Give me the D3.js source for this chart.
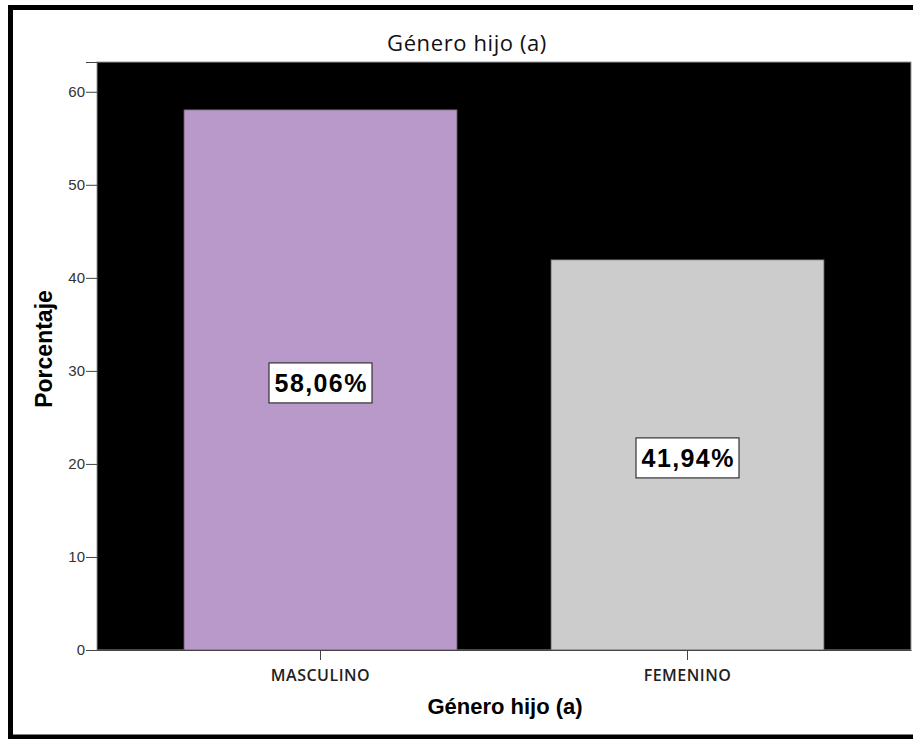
<!DOCTYPE html>
<html>
<head>
    <meta charset="utf-8">
    <style>
        body { margin: 0; background: #fff; }
    </style>
</head>
<body>
    <div id="container"></div>
    <script src="https://d3js.org/d3.v7.min.js"></script>
    <script>
        const categories = ["MASCULINO", "FEMENINO"];
        const values = [58.06, 41.94];
        const labels = ["58,06%", "41,94%"];
        const colors = ["#b899c9", "#cccccc"];
        const yTicks = [0, 10, 20, 30, 40, 50, 60];

        const width = 913, height = 739;
        const plot = { left: 97, right: 911, top: 62, bottom: 650 };

        const svg = d3.select("#container").append("svg")
            .attr("width", width)
            .attr("height", height);

        // outer frame
        svg.append("rect")
            .attr("x", 10.5).attr("y", 7.5)
            .attr("width", 1000).attr("height", 729.5)
            .attr("fill", "none")
            .attr("stroke", "#000")
            .attr("stroke-width", 5);

        const x = d3.scaleBand()
            .domain(categories)
            .range([plot.left, plot.right])
            .paddingInner(0.256)
            .paddingOuter(0.237);

        const y = d3.scaleLinear()
            .domain([0, 63.2])
            .range([plot.bottom, plot.top]);

        // plot background
        svg.append("rect")
            .attr("x", plot.left).attr("y", plot.top)
            .attr("width", plot.right - plot.left)
            .attr("height", plot.bottom - plot.top)
            .attr("fill", "#000")
            .attr("stroke", "#999")
            .attr("stroke-width", 1);

        // bars
        svg.append("g")
            .selectAll("rect")
            .data(values)
            .join("rect")
            .attr("x", (d, i) => x(categories[i]))
            .attr("y", d => y(d))
            .attr("width", x.bandwidth())
            .attr("height", d => y(0) - y(d))
            .attr("fill", (d, i) => colors[i])
            .attr("stroke", "#555")
            .attr("stroke-width", 0.8);

        // y axis
        svg.append("g")
            .attr("transform", `translate(${plot.left},0)`)
            .call(d3.axisLeft(y).tickValues(yTicks).tickSize(11).tickPadding(1))
            .call(g => g.select(".domain").attr("stroke", "#444"))
            .call(g => g.selectAll(".tick line").attr("stroke", "#444"))
            .call(g => g.selectAll(".tick text")
                .style("font", "15px 'Liberation Sans', Arial, sans-serif").attr("fill", "#333"));

        // x axis
        svg.append("g")
            .attr("transform", `translate(0,${plot.bottom})`)
            .call(d3.axisBottom(x).tickSize(10).tickPadding(10).tickSizeOuter(0))
            .call(g => g.select(".domain").attr("stroke", "#444"))
            .call(g => g.selectAll(".tick line").attr("stroke", "#444"))
            .call(g => g.selectAll(".tick text")
                .style("font", "600 16px 'Open Sans', sans-serif")
                .style("letter-spacing", "0.5px")
                .attr("fill", "#222"));

        // value labels with boxes
        const lab = svg.append("g")
            .selectAll("g")
            .data(values)
            .join("g")
            .attr("transform", (d, i) => `translate(${x(categories[i]) + x.bandwidth() / 2},${y(d / 2) + 3})`);

        lab.append("rect")
            .attr("x", -51.5).attr("y", -20)
            .attr("width", 103).attr("height", 40)
            .attr("fill", "#fff")
            .attr("stroke", "#333")
            .attr("stroke-width", 1.2);

        lab.append("text")
            .attr("text-anchor", "middle")
            .attr("x", 0.7)
            .attr("dy", "0.36em")
            .style("font", "bold 25px 'Liberation Sans', Arial, sans-serif")
            .style("letter-spacing", "1.4px")
            .attr("fill", "#000")
            .text((d, i) => labels[i]);

        // title
        svg.append("text")
            .attr("x", 467).attr("y", 51)
            .attr("text-anchor", "middle")
            .style("font", "22px 'Open Sans', sans-serif")
            .style("letter-spacing", "0.6px")
            .attr("fill", "#111")
            .text("Género hijo (a)");

        // x axis title
        svg.append("text")
            .attr("x", 505).attr("y", 714)
            .attr("text-anchor", "middle")
            .style("font", "bold 22px 'Liberation Sans', Arial, sans-serif")
            .attr("fill", "#000")
            .text("Género hijo (a)");

        // y axis title
        svg.append("text")
            .attr("transform", "translate(52,349) rotate(-90)")
            .attr("text-anchor", "middle")
            .style("font", "bold 23px 'Liberation Sans', Arial, sans-serif")
            .attr("fill", "#000")
            .text("Porcentaje");
    </script>
</body>
</html>
